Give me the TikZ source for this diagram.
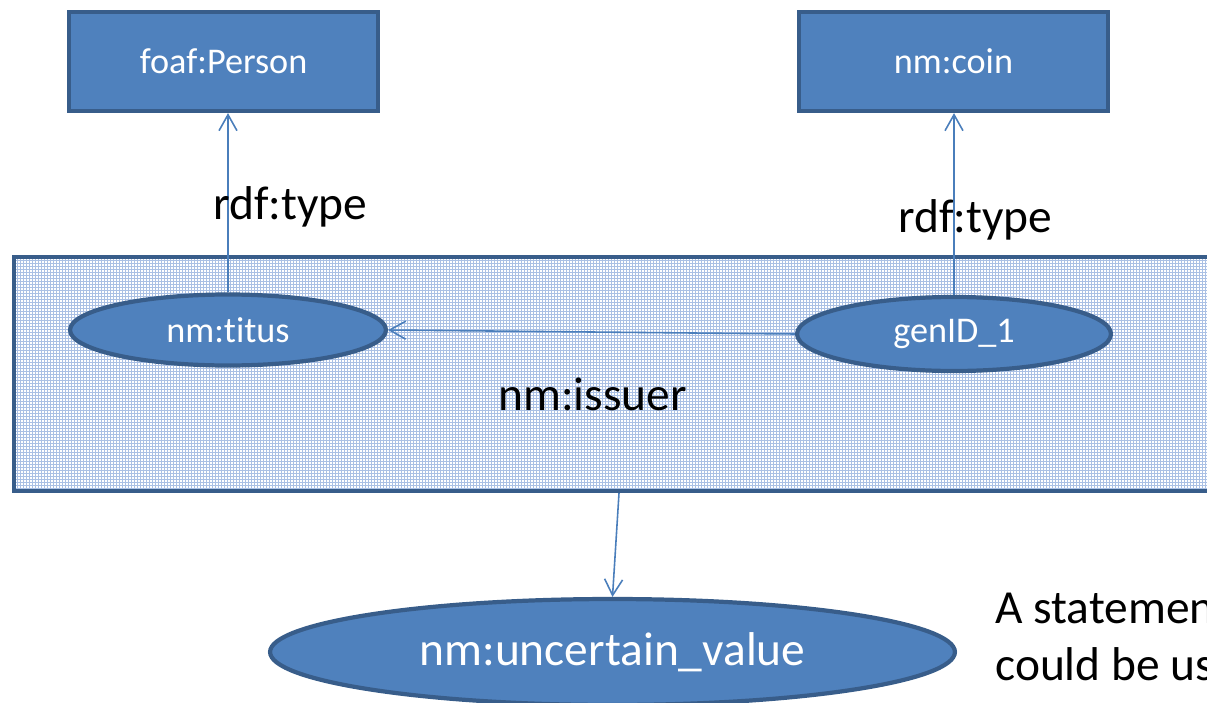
\documentclass[tikz,border=0pt]{standalone}
\usepackage{fontspec}
\setmainfont{Carlito}[Ligatures=NoCommon]
\usetikzlibrary{shapes.geometric,arrows.meta}
\definecolor{nodefill}{HTML}{4F81BD}
\definecolor{nodeedge}{HTML}{385D8A}
\definecolor{linkblue}{HTML}{4A7EBB}
\definecolor{gridblue}{HTML}{AAC0E4}
\tikzset{
  classbox/.style={draw=nodeedge, fill=nodefill, line width=2.4pt,
    minimum width=6.18cm, minimum height=1.98cm, inner sep=0pt,
    text=white, font=\fontsize{20.6}{24}\selectfont},
  resource/.style={ellipse, draw=nodeedge, fill=nodefill, line width=2.4pt,
    inner sep=0pt, text=white, font=\fontsize{20.6}{24}\selectfont},
  link/.style={draw=linkblue, line width=0.9pt,
    -{Straight Barb[length=0.32cm,width=0.36cm]}},
  edgelabel/.style={anchor=base west, inner sep=0pt,
    font=\fontsize{27}{32}\selectfont},
  container/.style={draw=nodeedge, line width=2.4pt, inner sep=0pt},
}
\begin{document}
\begin{tikzpicture}[x=0.02cm,y=-0.02cm]
\useasboundingbox (0,0) rectangle (1207,703);
\clip (0,0) rectangle (1207,703);

% hatched background of the reified statement
\begin{scope}
  \clip (14,257) rectangle (1240,491);
  \fill[white] (14,257) rectangle (1240,491);
  \draw[gridblue, line width=0.02cm, step=0.06cm] (0,240) grid (1260,510);
\end{scope}
\node[container, minimum width=24.52cm, minimum height=4.68cm] (stmt) at (627,374) {};

% classes
\node[classbox] (person) at (223.5,61.5) {foaf:Person};
\node[classbox] (coin) at (953.5,61.5) {nm:coin};

% resources
\node[resource, minimum width=6.32cm, minimum height=1.42cm] (titus) at (228,330) {nm:titus};
\node[resource, minimum width=6.28cm, minimum height=1.48cm] (gen) at (954,334) {genID\_1};
\node[resource, minimum width=13.7cm, minimum height=2.12cm,
  font=\fontsize{27}{32}\selectfont] (unc) at (612.5,652) {nm:uncertain\_value};

% properties
\draw[link] (titus.north) -- (titus.north |- person.south);
\draw[link] (gen.north) -- (gen.north |- coin.south);
\draw[link] (gen.west) -- (titus.east);
\draw[link] ([xshift=-0.16cm]stmt.south) -- (unc.north);

% property labels
\node[edgelabel] (lbltype1) at (213,219) {rdf:type};
\node[edgelabel] (lbltype2) at (898,232) {rdf:type};
\node[edgelabel] (lblissuer) at (498,410) {nm:issuer};

% note beside the diagram, running on past the right edge
\node[edgelabel] (noteA) at (995,623) {A statement};
\node[edgelabel] (noteB) at (995,680) {could be us};
\end{tikzpicture}
\end{document}
